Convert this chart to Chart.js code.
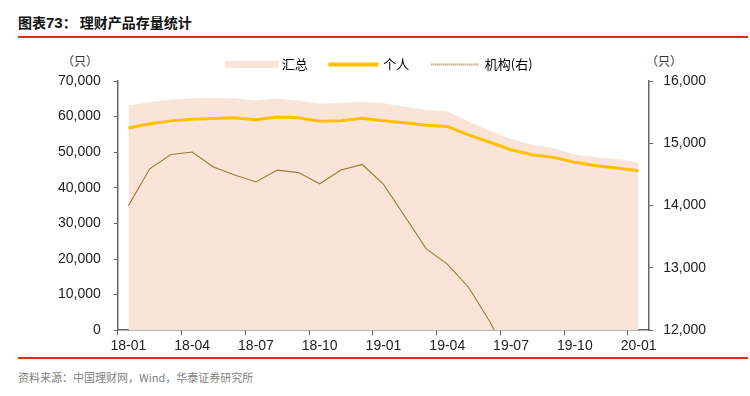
<!DOCTYPE html>
<html>
<head>
<meta charset="utf-8">
<script src="https://cdn.jsdelivr.net/npm/chart.js@4.4.0/dist/chart.umd.min.js"></script>
<style>
  body { margin: 0; background: #fff; width: 750px; height: 396px; position: relative; overflow: hidden; }
  #title { position: absolute; left: 18px; top: 12px; font: bold 14px "Noto Sans CJK SC", sans-serif; color: #111; }
  #title .num { font-family: "Liberation Sans", Arial, sans-serif; font-size: 15px; }
  .redline { position: absolute; left: 18px; width: 730px; height: 1.5px; background: #e3281c; }
  #source { position: absolute; left: 18px; top: 369px; font: 11px "Noto Sans CJK SC", sans-serif; color: #808080; }
  .unit { position: absolute; top: 52px; font: 12px "Noto Sans CJK SC", sans-serif; color: #333; }
  #wrap { position: absolute; left: 0; top: 0; width: 750px; height: 396px; }
</style>
</head>
<body>
<div id="title">图表<span class="num">73</span>：&nbsp;理财产品存量统计</div>
<div class="redline" style="top:36px"></div>
<div class="redline" style="top:357px"></div>
<div id="source">资料来源：中国理财网，Wind，华泰证券研究所</div>
<div class="unit" style="left:62px">（只）</div>
<div class="unit" style="left:646px">（只）</div>
<div id="wrap"><canvas id="myChart" width="750" height="396"></canvas></div>
<script>
const months = ["18-01","18-02","18-03","18-04","18-05","18-06","18-07","18-08","18-09","18-10","18-11","18-12",
    "19-01","19-02","19-03","19-04","19-05","19-06","19-07","19-08","19-09","19-10","19-11","19-12","20-01"];
const total = [63100,64000,64700,65150,65250,65150,64500,65050,64500,63600,63850,64200,
    63750,62800,61950,61400,58600,56100,53700,52100,51200,49300,48550,48100,47100];
const personal = [56800,58000,58800,59250,59500,59700,59150,59900,59650,58700,58850,59500,
    58850,58250,57550,57250,54850,52800,50700,49300,48550,47150,46200,45550,44800];
const institution = [14000,14590,14820,14860,14620,14490,14380,14570,14530,14350,14570,14660,
    14340,13830,13310,13060,12690,12140,11500,null,null,null,null,null,null];
const leftTicks = [0,10000,20000,30000,40000,50000,60000,70000];
const rightTicks = [12000,13000,14000,15000,16000];

const areaColor = "#fae4d7";
const personColor = "#ffc000";
const instColor = "#9c7a36";
const axisColor = "#666666";
const tickFont = { family: "'Liberation Sans', Arial, sans-serif", size: 14 };

const canvas = document.getElementById("myChart");

new Chart(canvas.getContext("2d"), {
    type: "line",
    data: {
        labels: months,
        datasets: [
            {
                label: "个人",
                data: personal,
                yAxisID: "y",
                borderColor: personColor,
                borderWidth: 3,
                pointRadius: 0,
                fill: false
            },
            {
                label: "机构(右)",
                data: institution,
                yAxisID: "y1",
                borderColor: instColor,
                borderWidth: 1.1,
                pointRadius: 0,
                fill: false
            },
            {
                label: "汇总",
                data: total,
                yAxisID: "y",
                borderColor: areaColor,
                backgroundColor: areaColor,
                borderWidth: 0,
                pointRadius: 0,
                fill: "origin"
            }
        ]
    },
    options: {
        responsive: false,
        animation: false,
        layout: { padding: { left: 45, right: 34, top: 36, bottom: 38 } },
        plugins: {
            tooltip: { enabled: false },
            legend: {
                position: "top",
                labels: {
                    boxWidth: 47,
                    boxHeight: 1,
                    padding: 22,
                    color: "#333",
                    font: { family: "'Noto Sans CJK SC', sans-serif", size: 13 },
                    generateLabels: () => [
                        { text: "汇总", fillStyle: areaColor, strokeStyle: areaColor, lineWidth: 6, datasetIndex: 2 },
                        { text: "个人", fillStyle: personColor, strokeStyle: personColor, lineWidth: 3, datasetIndex: 0 },
                        { text: "机构(右)", fillStyle: "rgba(0,0,0,0)", strokeStyle: instColor, lineWidth: 1, lineDash: [1, 1], datasetIndex: 1 }
                    ]
                }
            }
        },
        scales: {
            x: {
                offset: true,
                border: { display: true, color: axisColor, width: 1.5 },
                grid: {
                    offset: true,
                    drawOnChartArea: false,
                    tickLength: 5,
                    color: (ctx) => (ctx.index !== undefined && ctx.index % 3 === 0 ? axisColor : "rgba(0,0,0,0)")
                },
                ticks: {
                    autoSkip: false,
                    maxRotation: 0,
                    padding: 3,
                    color: "#222",
                    font: tickFont,
                    callback: (value, index) => (index % 3 === 0 ? months[index] : "")
                }
            },
            y: {
                position: "left",
                min: 0,
                max: 70000,
                afterBuildTicks: (axis) => { axis.ticks = leftTicks.map(v => ({ value: v })); },
                border: { display: true, color: axisColor, width: 1.5 },
                grid: { drawOnChartArea: false, tickLength: 4, color: axisColor },
                ticks: {
                    padding: 13,
                    color: "#222",
                    font: tickFont,
                    callback: (v) => v.toLocaleString("en-US")
                }
            },
            y1: {
                position: "right",
                min: 12000,
                max: 16000,
                afterBuildTicks: (axis) => { axis.ticks = rightTicks.map(v => ({ value: v })); },
                border: { display: true, color: axisColor, width: 1.5 },
                grid: { drawOnChartArea: false, tickLength: 4, color: axisColor },
                ticks: {
                    padding: 10,
                    color: "#222",
                    font: tickFont,
                    callback: (v) => v.toLocaleString("en-US")
                }
            }
        }
    }
});
</script>
</body>
</html>
